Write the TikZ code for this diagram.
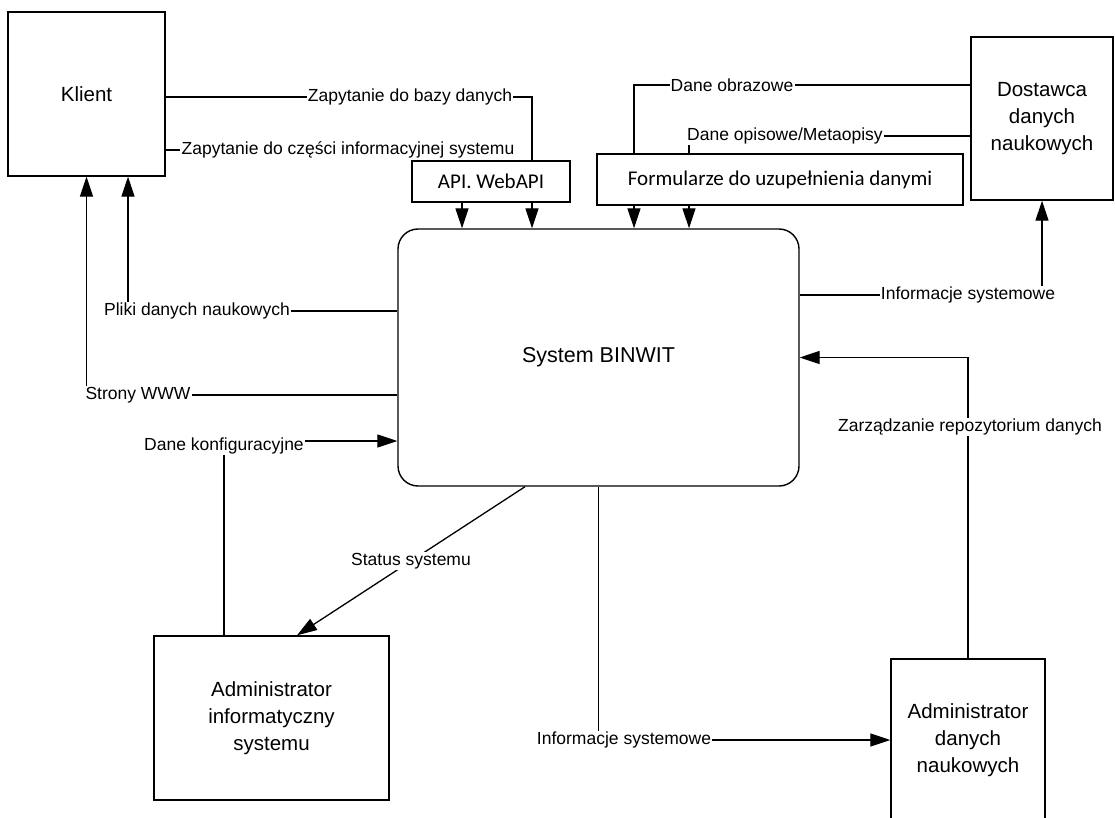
\documentclass[tikz,border=0pt]{standalone}
\usepackage{fontspec}
\setmainfont{Liberation Sans}
\newfontfamily\calib{Carlito}
\usetikzlibrary{arrows.meta,calc}
\begin{document}
\begin{tikzpicture}[x=1pt,y=-1pt,
 box/.style={draw,line width=1.4pt,inner sep=0pt,align=center,font=\fontsize{20.5}{27}\selectfont},
 ibox/.style={draw,line width=2.4pt,inner sep=0pt,font=\calib\fontsize{21}{25}\selectfont},
 lbl/.style={inner sep=1pt,font=\fontsize{17.5}{20}\selectfont},
 conn/.style={line width=1.3pt},
 arr/.style={conn,-{Triangle[length=20pt,width=13pt]}}]
\useasboundingbox (0,0) rectangle (1115,818);
\clip (0,0) rectangle (1115,818);
\fill[white] (0,0) rectangle (1115,818);

% boxes
\node[box,minimum width=157pt,minimum height=164pt] (klient) at (86.5,94) {Klient};
\node[box,minimum width=142pt,minimum height=163pt] (dost) at (1042,118.5) {Dostawca\\danych\\naukowych};
\node[ibox,minimum width=158pt,minimum height=41pt] (api) at (491,181.5) {API. WebAPI};
\node[ibox,minimum width=366pt,minimum height=51pt] (form) at (780,179.5) {Formularze do uzupełnienia danymi};
\node[box,rounded corners=20pt,minimum width=401pt,minimum height=257pt,font=\fontsize{21.5}{25}\selectfont] (sys) at (598.5,357.5) {System BINWIT};
\node[box,minimum width=235pt,minimum height=164pt] (admIT) at (271.5,718) {Administrator\\informatyczny\\systemu};
\node[box,minimum width=154pt,minimum height=162pt] (admD) at (968,740) {Administrator\\danych\\naukowych};

% labels
\node[lbl] (l1) at (410,97) {Zapytanie do bazy danych};
\node[lbl] (l2) at (348,150) {Zapytanie do części informacyjnej systemu};
\node[lbl] (l3) at (732,85) {Dane obrazowe};
\node[lbl] (l4) at (785,136) {Dane opisowe/Metaopisy};
\node[lbl] (l5) at (968,295) {Informacje systemowe};
\node[lbl] (l6) at (970,427) {Zarządzanie repozytorium danych};
\node[lbl] (l7) at (624,740) {Informacje systemowe};
\node[lbl] (l9) at (197,311) {Pliki danych naukowych};
\node[lbl] (l10) at (138,395) {Strony WWW};
\node[lbl] (l11) at (224,446) {Dane konfiguracyjne};

% helper coordinates on node borders
\coordinate (a1) at ([xshift=-29pt]api.south);
\coordinate (a2) at ([xshift=41pt]api.north);
\coordinate (f1) at ([xshift=-146pt]form.north);
\coordinate (f2) at ([xshift=-91pt]form.north);
\coordinate (s1) at ([xshift=-73.5pt]sys.south);
\coordinate (s2) at ([xshift=25.5pt]admIT.north);
\coordinate (k2) at ([xshift=41.5pt]klient.south);
\coordinate (t1) at ([xshift=-47.5pt]admIT.north);
\coordinate (d1) at ([yshift=5pt]l11.east);

% Klient -> API
\draw[conn] (klient.east |- l1) -- (l1.west);
\draw[conn] (l1.east) -| (a2);
\draw[conn] (klient.east |- l2) -- (l2.west);
\draw[arr] (a1) -- (a1 |- sys.north);
\draw[arr] (a2 |- api.south) -- (a2 |- sys.north);

% Dostawca -> Formularze
\draw[conn] (dost.west |- l3) -- (l3.east);
\draw[conn] (l3.west) -| (f1);
\draw[conn] (dost.west |- l4) -- (l4.east);
\draw[conn] (f2) -- (f2 |- l4.south);
\draw[arr] (f1 |- form.south) -- (f1 |- sys.north);
\draw[arr] (f2 |- form.south) -- (f2 |- sys.north);

% right side
\draw[conn] (sys.east |- l5) -- (l5.west);
\draw[arr] (dost.south |- l5.north) -- (dost.south);
\draw[conn] (admD.north) -- (admD.north |- l6.south);
\draw[arr] (admD.north |- l6.north) |- (sys.east);

% bottom
\draw[conn] (sys.south) -- (sys.south |- l7.north);
\draw[arr] (l7.east) -- (admD.west |- l7.east);
\draw[arr] (s1) -- node[lbl,fill=white,midway] (l8) {Status systemu} (s2);

% left side
\draw[conn] (sys.west |- l9) -- (l9.east);
\draw[arr] (k2 |- l9.north) -- (k2);
\draw[conn] (sys.west |- l10) -- (l10.east);
\draw[arr] (klient.south |- l10.north) -- (klient.south);
\draw[conn] (t1) -- (t1 |- l11.south);
\draw[arr] (d1) -- (sys.west |- d1);
\end{tikzpicture}
\end{document}
